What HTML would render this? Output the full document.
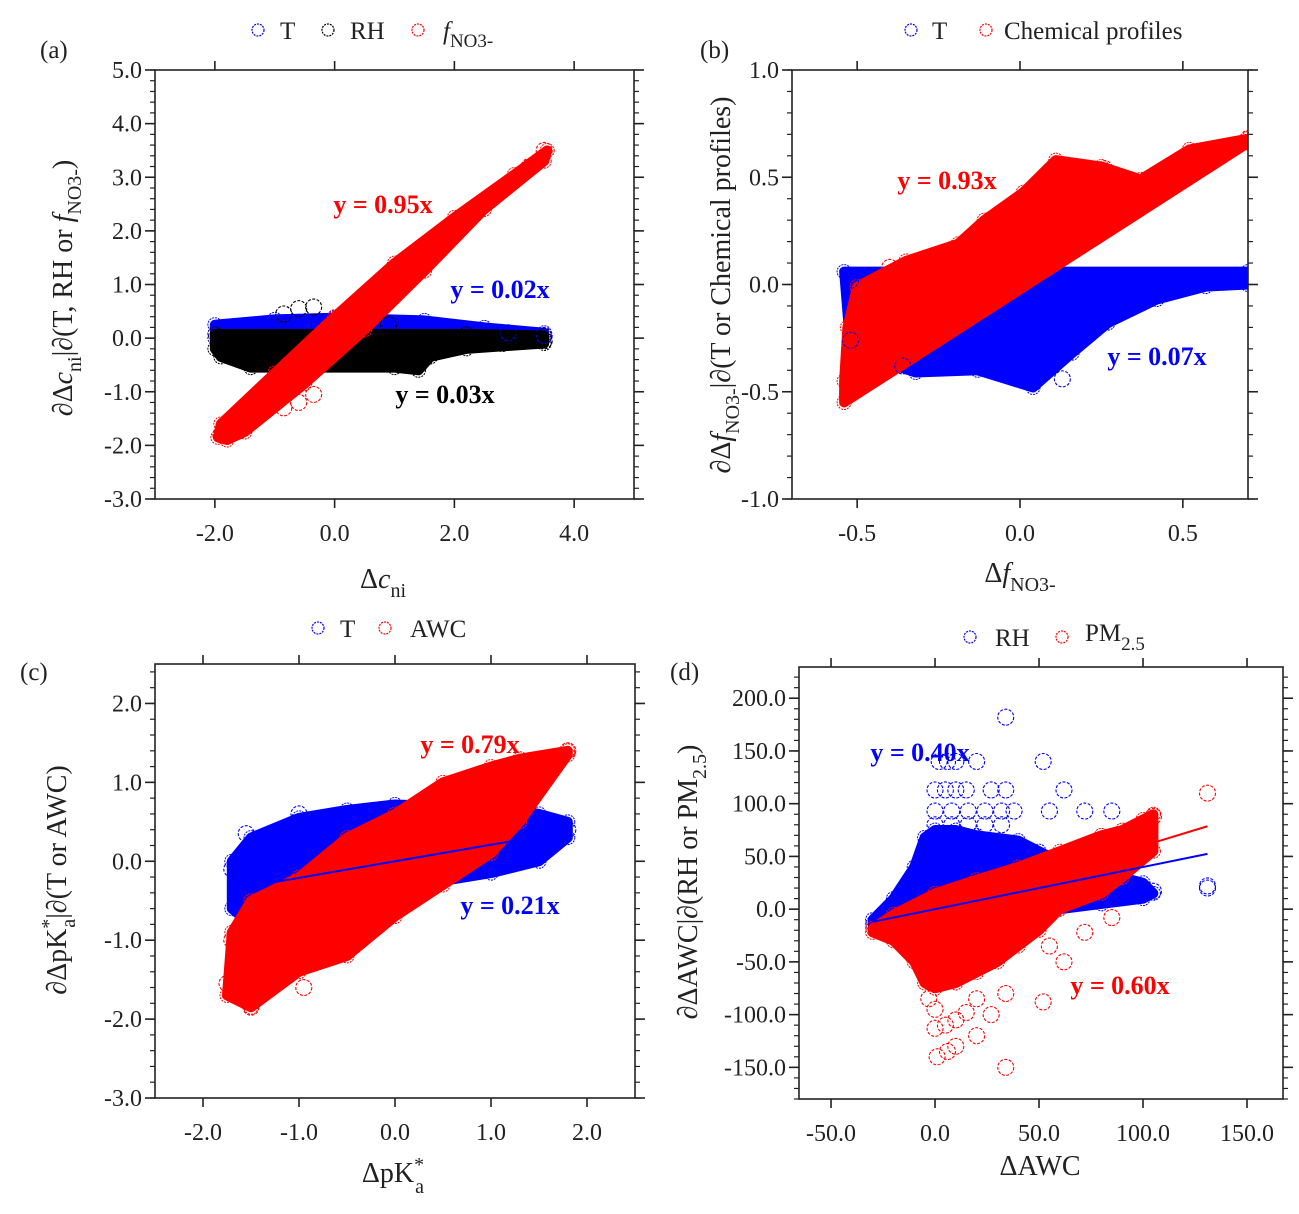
<!DOCTYPE html>
<html><head><meta charset="utf-8"><style>
html,body{margin:0;padding:0;background:#fff}
svg{display:block;font-family:"Liberation Serif",serif}
</style></head><body>
<svg id="fig" width="1299" height="1214" viewBox="0 0 1299 1214"></svg>
<script>
// ---- data ----
const aBlueEnv=[[-2.0,0.25],[-1.0,0.35],[0,0.38],[1.5,0.33],[2.5,0.2],[3.5,0.1],[3.5,0.0],[-2.0,0.0]];
const aBlackEnv=[[-2.0,0.08],[2.2,0.08],[3.5,0.05],[3.5,-0.1],[2.2,-0.2],[1.6,-0.35],[1.4,-0.6],[1.0,-0.55],[-1.4,-0.55],[-1.9,-0.35],[-2.0,-0.2]];
const aRedEnv=[[-1.95,-1.85],[-1.9,-1.6],[-1.0,-0.65],[0,0.4],[1.0,1.4],[2.0,2.25],[3.0,3.05],[3.55,3.5],[3.5,3.3],[2.5,2.4],[1.5,1.25],[0.5,0.15],[-0.5,-0.85],[-1.5,-1.75],[-1.8,-1.9]];
const aRedOut=[[-0.35,-1.05],[-0.6,-1.2],[-0.85,-1.3],[2.8,2.8],[3.25,3.2],[3.5,3.5],[-1.9,-1.8]];
const aBlackOut=[[-0.35,0.58],[-0.6,0.55],[-0.85,0.45],[3.5,-0.05],[2.8,-0.1],[0.9,0.25]];
const aBlueOut=[[3.5,0.05],[2.9,0.1]];
const aSlopes=[0.95,0.03,0.02];

const bBlueEnv=[[-0.54,0.06],[0.7,0.06],[0.7,0.0],[0.57,-0.01],[0.42,-0.07],[0.27,-0.18],[0.16,-0.32],[0.04,-0.48],[-0.13,-0.40],[-0.32,-0.41],[-0.52,-0.31]];
const bRedEnv=[[-0.54,-0.55],[-0.54,-0.45],[-0.53,-0.2],[-0.5,-0.01],[-0.35,0.11],[-0.19,0.19],[-0.11,0.30],[0.01,0.43],[0.11,0.58],[0.25,0.55],[0.37,0.49],[0.52,0.63],[0.7,0.68],[0.7,0.66]];
const bRedOut=[[0.7,0.68],[0.26,0.54],[0.12,0.56],[-0.53,-0.52],[-0.52,-0.25],[-0.4,0.08],[0.57,0.6]];
const bBlueOut=[[0.7,0.02],[0.6,0.01],[0.04,-0.46],[0.13,-0.44],[-0.52,0.02],[-0.52,-0.26],[-0.36,-0.38]];
const bSlopes=[0.93,0.07];

const cBlueEnv=[[-1.7,-0.6],[-1.7,0.0],[-1.5,0.3],[-1.0,0.55],[-0.5,0.65],[0,0.72],[0.5,0.7],[1.0,0.7],[1.5,0.6],[1.8,0.5],[1.8,0.3],[1.5,0.0],[1.0,-0.15],[0.5,-0.25],[0,-0.4],[-0.5,-0.7],[-1.0,-0.85],[-1.5,-0.8]];
const cRedEnv=[[-1.7,-0.9],[-1.5,-0.5],[-1.0,-0.2],[-0.5,0.3],[0,0.6],[0.5,1.0],[1.0,1.2],[1.3,1.3],[1.8,1.4],[1.8,1.35],[1.3,0.5],[1.0,0.1],[0.5,-0.3],[0,-0.7],[-0.5,-1.2],[-1.0,-1.4],[-1.5,-1.85],[-1.75,-1.7]];
const cRedOut=[[-1.5,-1.85],[-1.75,-1.55],[-0.95,-1.6],[1.8,1.4],[-1.7,-1.0]];
const cBlueOut=[[-1.55,0.35],[-1.0,0.6],[1.8,0.4],[-1.7,-0.1]];
const cSlopes=[0.79,0.21];

const dBlueEnv=[[-30,-10],[-20,10],[-10,40],[-5,68],[0,75],[10,75],[20,70],[40,65],[50,55],[60,45],[80,35],[100,25],[105,15],[100,10],[80,5],[60,0],[50,-5],[40,-10],[20,-12],[0,-12],[-20,-18],[-30,-14]];
const dRedEnv=[[-30,-18],[-20,-5],[0,15],[20,28],[40,40],[60,55],[80,70],[90,75],[100,85],[105,90],[105,55],[90,30],[80,15],[60,0],[50,-20],[40,-35],[30,-50],[20,-60],[10,-70],[0,-75],[-5,-70],[-10,-50],[-20,-30],[-30,-22]];
const dBlueOut=[[34,182],[2,140],[6,140],[10,140],[20,140],[52,140],[62,113],[34,113],[27,113],[0,113],[5,113],[10,113],[15,113],[72,93],[85,93],[55,93],[0,93],[8,93],[16,93],[24,93],[32,93],[38,93],[0,80],[8,80],[16,80],[24,80],[32,80],[105,17],[131,22],[131,20],[95,20]];
const dRedOut=[[131,110],[105,88],[-3,-85],[0,-95],[0,-113],[5,-110],[10,-105],[20,-85],[1,-140],[6,-135],[10,-130],[20,-120],[34,-150],[52,-88],[55,-35],[72,-22],[85,-8],[62,-50],[34,-80],[27,-100],[15,-98]];
const dSlopes=[0.60,0.40];

const aXTicks=[-2,0,2,4], aYTicks=[-3,-2,-1,0,1,2,3,4,5];
const bXTicks=[-0.5,0,0.5], bYTicks=[-1,-0.5,0,0.5,1];
const cXTicks=[-2,-1,0,1,2], cYTicks=[-3,-2,-1,0,1,2];
const dXTicks=[-50,0,50,100,150], dYTicks=[-150,-100,-50,0,50,100,150,200];

const NS="http://www.w3.org/2000/svg";
const svg=document.getElementById('fig');
function el(tag,attrs,parent){const e=document.createElementNS(NS,tag);for(const k in attrs)e.setAttribute(k,attrs[k]);(parent||svg).appendChild(e);return e;}

function panel(id,box,xd,yd,xt,yt,xfmt,yfmt,minorStep){
  const g=el('g',{});
  
  
  const sx=v=>box.L+(v-xd[0])/(xd[1]-xd[0])*(box.R-box.L);
  const sy=v=>box.B-(v-yd[0])/(yd[1]-yd[0])*(box.B-box.T);
  const clip=el('clipPath',{id:'clip-'+id},g);
  el('rect',{x:box.L,y:box.T,width:box.R-box.L,height:box.B-box.T},clip);
  const plot=el('g',{'clip-path':'url(#clip-'+id+')'},g);
  
  
  const fr=el('rect',{x:box.L,y:box.T,width:box.R-box.L,height:box.B-box.T,fill:'none',stroke:'#222','stroke-width':1.6},g);
  
  
  xt.forEach(v=>{
    const x=sx(v);
    el('line',{x1:x,x2:x,y1:box.B,y2:box.B+9,stroke:'#222','stroke-width':1.6},g);
    el('line',{x1:x,x2:x,y1:box.T,y2:box.T-9,stroke:'#222','stroke-width':1.6},g);
    const t=el('text',{x:x,y:box.B+42,'text-anchor':'middle','font-size':24,fill:'#222'},g);
    t.textContent=xfmt(v);
    
    
  });
  yt.forEach(v=>{
    const y=sy(v);
    el('line',{x1:box.L,x2:box.L-10,y1:y,y2:y,stroke:'#222','stroke-width':1.6},g);
    el('line',{x1:box.R,x2:box.R+10,y1:y,y2:y,stroke:'#222','stroke-width':1.6},g);
    const t=el('text',{x:box.L-13,y:y+8,'text-anchor':'end','font-size':24,fill:'#222'},g);
    t.textContent=yfmt(v);
    
    
  });
  for(let v=yd[0];v<=yd[1]+1e-9;v+=minorStep){
    const y=sy(v);
    el('line',{x1:box.L,x2:box.L-5,y1:y,y2:y,stroke:'#222','stroke-width':1.2},g);
    el('line',{x1:box.R,x2:box.R+5,y1:y,y2:y,stroke:'#222','stroke-width':1.2},g);
  }
  return {g,plot,sx,sy};
}
function cloud(p,env,color,name){
  const pts=env.map(d=>p.sx(d[0])+','+p.sy(d[1])).join(' ');
  const pg=el('polygon',{points:pts,fill:color,stroke:color,'stroke-width':10,'stroke-linejoin':'round'},p.plot);
  
  
  env.forEach(d=>{
    const c=el('circle',{cx:p.sx(d[0]),cy:p.sy(d[1]),r:7,fill:'none',stroke:color,'stroke-width':1,'stroke-dasharray':'2 1'},p.plot);
    
    
  });
}
function outliers(p,arr,color,name){
  arr.forEach(d=>{
    const c=el('circle',{cx:p.sx(d[0]),cy:p.sy(d[1]),r:8,fill:'none',stroke:color,'stroke-width':1.1,'stroke-dasharray':'3 1.5'},p.plot);
    
    
  });
}
function fit(p,k,x0,x1,color,name){
  const l=el('line',{x1:p.sx(x0),y1:p.sy(k*x0),x2:p.sx(x1),y2:p.sy(k*x1),stroke:color,'stroke-width':2},p.plot);
  
  
}
function txt(x,y,html,attrs,name){
  const t=el('text',Object.assign({x:x,y:y,'font-size':25,fill:'#222'},attrs||{}));
  t.innerHTML=html;
  
  
  return t;
}
function legendMark(x,y,color){
  const c=el('circle',{cx:x,cy:y,r:6,fill:'none',stroke:color,'stroke-width':1.2,'stroke-dasharray':'2 1'});
  
  
}
const f1=v=>v.toFixed(1);

// ---- Panel a ----
const pa=panel('a',{L:155,R:634,T:70,B:499},[-3,5],[-3,5],aXTicks,aYTicks,f1,f1,0.2);
cloud(pa,aBlueEnv,'#0000ff','cloud-a-t');
cloud(pa,aBlackEnv,'#000000','cloud-a-rh');
cloud(pa,aRedEnv,'#ff0000','cloud-a-fno3');
outliers(pa,aBlueOut,'#0000ff','outlier-a-t');
outliers(pa,aBlackOut,'#000000','outlier-a-rh');
outliers(pa,aRedOut,'#ff0000','outlier-a-fno3');
fit(pa,aSlopes[0],-1.9,3.5,'#ff0000','fit-line-a-fno3');
fit(pa,aSlopes[1],2.3,3.5,'#000000','fit-line-a-rh');

// ---- Panel b ----
const pb=panel('b',{L:792,R:1248,T:70,B:499},[-0.7,0.7],[-1,1],bXTicks,bYTicks,f1,f1,0.1);
cloud(pb,bBlueEnv,'#0000ff','cloud-b-t');
cloud(pb,bRedEnv,'#ff0000','cloud-b-chem');
outliers(pb,bBlueOut,'#0000ff','outlier-b-t');
outliers(pb,bRedOut,'#ff0000','outlier-b-chem');
fit(pb,bSlopes[0],-0.55,0.7,'#ff0000','fit-line-b-chem');

// ---- Panel c ----
const pc=panel('c',{L:155,R:635,T:664,B:1098},[-2.5,2.5],[-3,2.5],cXTicks,cYTicks,f1,f1,0.2);
cloud(pc,cBlueEnv,'#0000ff','cloud-c-t');
cloud(pc,cRedEnv,'#ff0000','cloud-c-awc');
outliers(pc,cBlueOut,'#0000ff','outlier-c-t');
outliers(pc,cRedOut,'#ff0000','outlier-c-awc');
fit(pc,cSlopes[0],-1.7,1.8,'#ff0000','fit-line-c-awc');
fit(pc,cSlopes[1],-1.7,1.8,'#0000ff','fit-line-c-t');

// ---- Panel d ----
const pd=panel('d',{L:799,R:1283,T:667,B:1099},[-65.4,167.3],[-180,229.6],dXTicks,dYTicks,f1,f1,10);
cloud(pd,dBlueEnv,'#0000ff','cloud-d-rh');
outliers(pd,dBlueOut,'#0000ff','outlier-d-rh');
cloud(pd,dRedEnv,'#ff0000','cloud-d-pm25');
outliers(pd,dRedOut,'#ff0000','outlier-d-pm25');
fit(pd,dSlopes[0],-30,131,'#ff0000','fit-line-d-pm25');
fit(pd,dSlopes[1],-30,131,'#0000ff','fit-line-d-rh');

// ---- annotations ----
const B={'font-weight':'bold','font-size':26,'text-anchor':'middle'};
txt(383,213,'y = 0.95x',Object.assign({fill:'#ff0000'},B),'equation-a-fno3');
txt(500,298,'y = 0.02x',Object.assign({fill:'#0000ff'},B),'equation-a-t');
txt(445,403,'y = 0.03x',Object.assign({fill:'#000000'},B),'equation-a-rh');
txt(947,189,'y = 0.93x',Object.assign({fill:'#ff0000'},B),'equation-b-chem');
txt(1157,365,'y = 0.07x',Object.assign({fill:'#0000ff'},B),'equation-b-t');
txt(470,753,'y = 0.79x',Object.assign({fill:'#ff0000'},B),'equation-c-awc');
txt(510,914,'y = 0.21x',Object.assign({fill:'#0000ff'},B),'equation-c-t');
txt(920,761,'y = 0.40x',Object.assign({fill:'#0000ff'},B),'equation-d-rh');
txt(1120,994,'y = 0.60x',Object.assign({fill:'#ff0000'},B),'equation-d-pm25');

// panel labels
txt(40,58,'(a)',{},'panel-label-a');
txt(700,58,'(b)',{},'panel-label-b');
txt(20,680,'(c)',{},'panel-label-c');
txt(670,680,'(d)',{},'panel-label-d');

// legends
legendMark(258,30,'#0000ff'); txt(280,39,'T',{},'legend-a-t');
legendMark(328,30,'#000000'); txt(350,39,'RH',{},'legend-a-rh');
legendMark(418,30,'#ff0000'); txt(443,39,'<tspan font-style="italic">f</tspan><tspan font-size="19" dy="8">NO3-</tspan>',{},'legend-a-fno3');
legendMark(911,30,'#0000ff'); txt(932,39,'T',{},'legend-b-t');
legendMark(986,30,'#ff0000'); txt(1004,39,'Chemical profiles',{},'legend-b-chem');
legendMark(318,628,'#0000ff'); txt(340,637,'T',{},'legend-c-t');
legendMark(385,628,'#ff0000'); txt(410,637,'AWC',{},'legend-c-awc');
legendMark(970,637,'#0000ff'); txt(995,646,'RH',{},'legend-d-rh');
legendMark(1062,637,'#ff0000'); txt(1085,641,'PM<tspan font-size="19" dy="9">2.5</tspan>',{},'legend-d-pm25');

// x titles
txt(383,588,'Δ<tspan font-style="italic">c</tspan><tspan font-size="20" dy="9">ni</tspan>',{'font-size':28,'text-anchor':'middle'},'x-axis-title-a');
txt(1020,582,'Δ<tspan font-style="italic">f</tspan><tspan font-size="20" dy="9">NO3-</tspan>',{'font-size':28,'text-anchor':'middle'},'x-axis-title-b');
txt(393,1182,'ΔpK<tspan font-size="20" dy="-11">*</tspan><tspan font-size="20" dx="-9" dy="22">a</tspan>',{'font-size':28,'text-anchor':'middle'},'x-axis-title-c');
txt(1040,1175,'ΔAWC',{'font-size':28,'text-anchor':'middle'},'x-axis-title-d');

// y titles
txt(0,0,'∂Δ<tspan font-style="italic">c</tspan><tspan font-size="20" dy="9">ni</tspan><tspan dy="-9">|∂(T, RH or </tspan><tspan font-style="italic">f</tspan><tspan font-size="20" dy="9">NO3-</tspan><tspan dy="-9">)</tspan>',{'font-size':28,'text-anchor':'middle',transform:'translate(72,288) rotate(-90)'},'y-axis-title-a');
txt(0,0,'∂Δ<tspan font-style="italic">f</tspan><tspan font-size="20" dy="9">NO3-</tspan><tspan dy="-9">|∂(T or Chemical profiles)</tspan>',{'font-size':28,'text-anchor':'middle',transform:'translate(730,285) rotate(-90)'},'y-axis-title-b');
txt(0,0,'∂ΔpK<tspan font-size="20" dy="-11">*</tspan><tspan font-size="20" dx="-9" dy="20">a</tspan><tspan dy="-9">|∂(T or AWC)</tspan>',{'font-size':28,'text-anchor':'middle',transform:'translate(66,880) rotate(-90)'},'y-axis-title-c');
txt(0,0,'∂ΔAWC|∂(RH or PM<tspan font-size="20" dy="9">2.5</tspan><tspan dy="-9">)</tspan>',{'font-size':28,'text-anchor':'middle',transform:'translate(697,882) rotate(-90)'},'y-axis-title-d');
</script>
</body></html>
